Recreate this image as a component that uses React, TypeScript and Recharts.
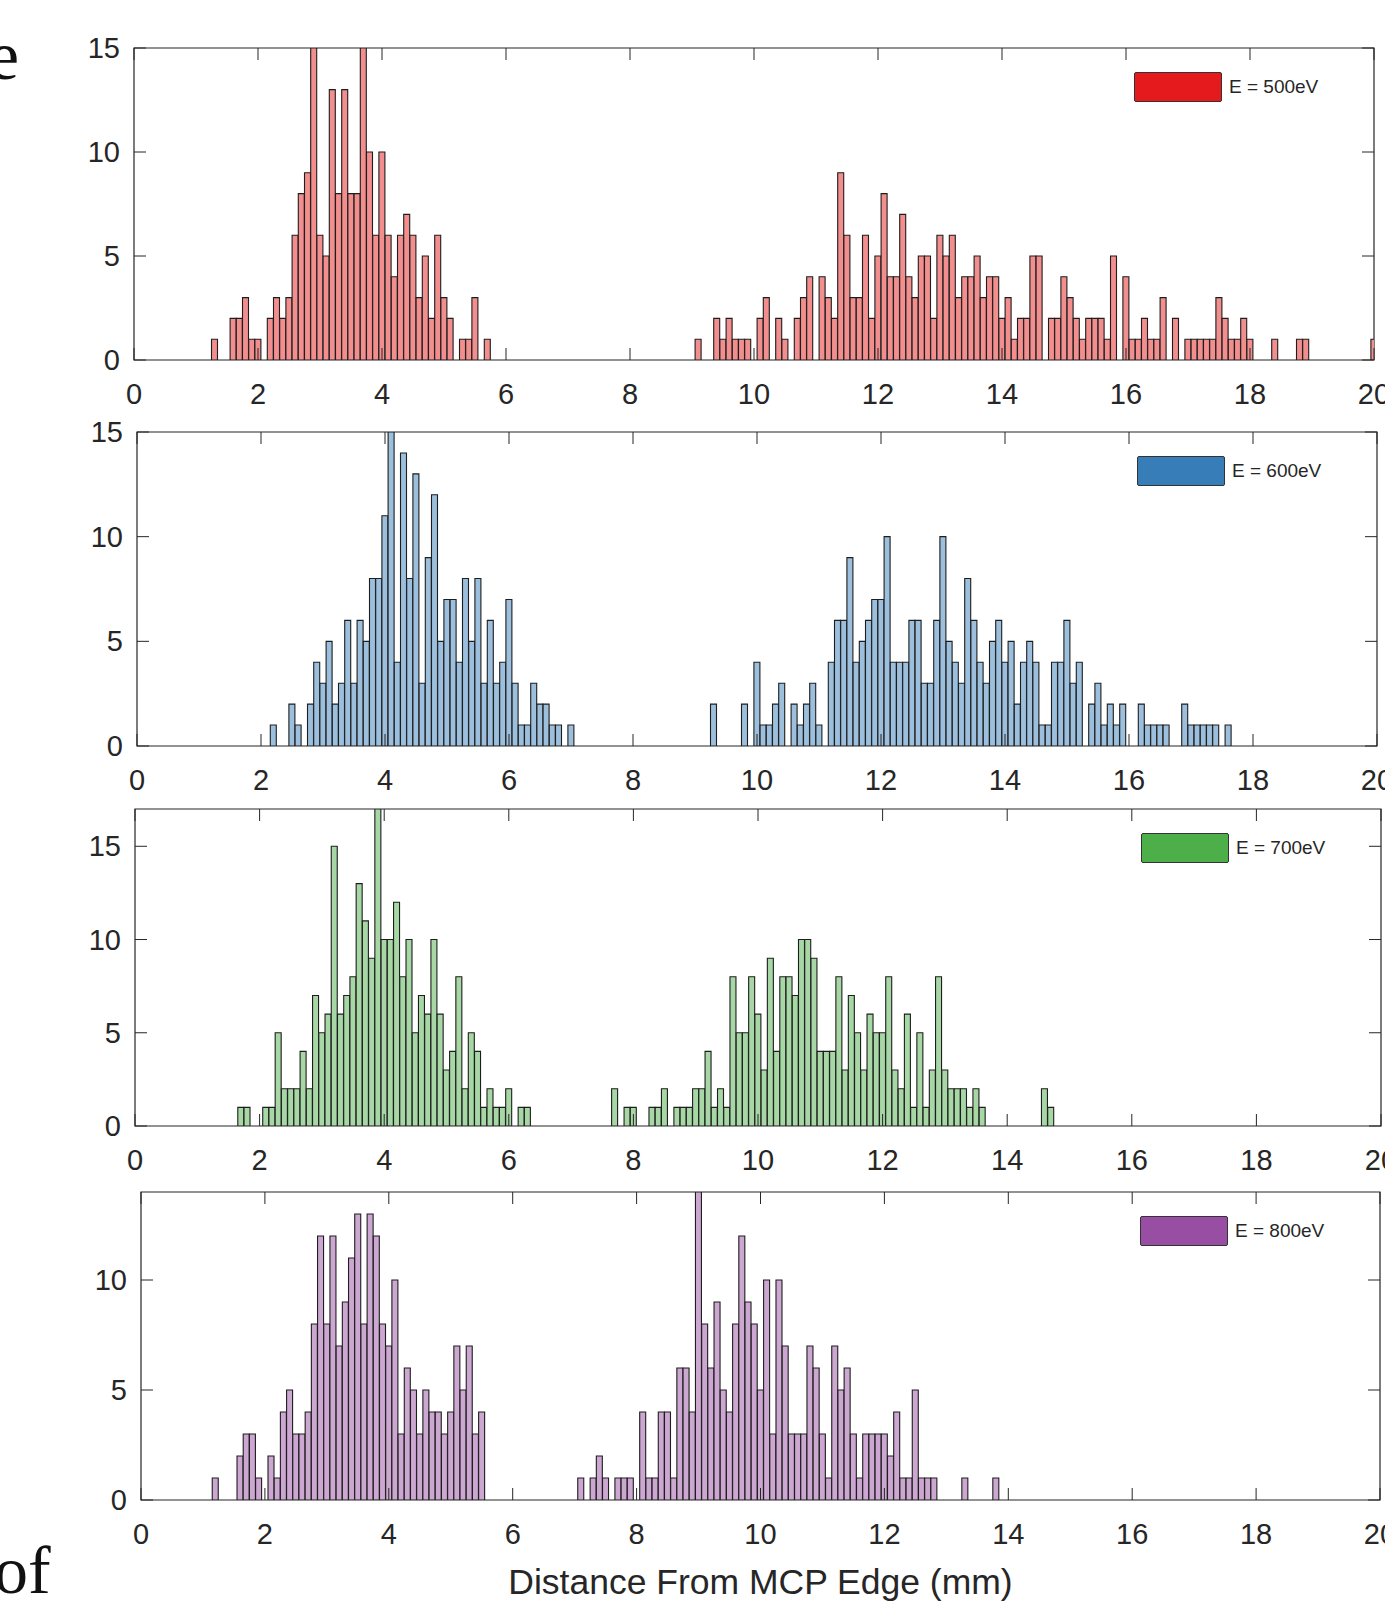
import { ComposedChart, Bar, XAxis, YAxis, ReferenceArea, Legend } from "recharts";

const W = 1385;
const INK = "#262626";
const SANS = "'Liberation Sans', Arial, sans-serif";

// counts per 0.1 mm bin; each run starts at the given bin centre (mm)
const e500StartA = 1.3;
const e500CountsA = [
  1, 0, 0, 2, 2, 3, 1, 1, 0, 2,
  3, 2, 3, 6, 8, 9, 15, 6, 5, 13,
  8, 13, 8, 8, 15, 10, 6, 10, 6, 4,
  6, 7, 6, 3, 5, 2, 6, 3, 2, 0,
  1, 1, 3, 0, 1,
];
const e500StartB = 9.1;
const e500CountsB = [
  1, 0, 0, 2, 1, 2, 1, 1, 1, 0,
  2, 3, 0, 2, 1, 0, 2, 3, 4, 0,
  4, 3, 2, 9, 6, 3, 3, 6, 2, 5,
  8, 4, 4, 7, 4, 3, 5, 5, 2, 6,
  5, 6, 3, 4, 4, 5, 3, 4, 4, 2,
  3, 1, 2, 2, 5, 5, 0, 2, 2, 4,
  3, 2, 1, 2, 2, 2, 1, 5, 0, 4,
  1, 1, 2, 1, 1, 3, 0, 2, 0, 1,
  1, 1, 1, 1, 3, 2, 1, 1, 2, 1,
  0, 0, 0, 1, 0, 0, 0, 1, 1, 0,
  0, 0, 0, 0, 0, 0, 0, 0, 0, 1,
];

const e600StartA = 2.2;
const e600CountsA = [
  1, 0, 0, 2, 1, 0, 2, 4, 3, 5,
  2, 3, 6, 3, 6, 5, 8, 8, 11, 15,
  4, 14, 8, 13, 3, 9, 12, 5, 7, 7,
  4, 8, 5, 8, 3, 6, 3, 4, 7, 3,
  1, 1, 3, 2, 2, 1, 1, 0, 1,
];
const e600StartB = 9.3;
const e600CountsB = [
  2, 0, 0, 0, 0, 2, 0, 4, 1, 1,
  2, 3, 0, 2, 1, 2, 3, 1, 0, 4,
  6, 6, 9, 4, 5, 6, 7, 7, 10, 4,
  4, 4, 6, 6, 3, 3, 6, 10, 5, 4,
  3, 8, 6, 4, 3, 5, 6, 4, 5, 2,
  4, 5, 4, 1, 1, 4, 4, 6, 3, 4,
  0, 2, 3, 1, 2, 1, 2, 0, 0, 2,
  1, 1, 1, 1, 0, 0, 2, 1, 1, 1,
  1, 1, 0, 1,
];

const e700StartA = 1.7;
const e700CountsA = [
  1, 1, 0, 0, 1, 1, 5, 2, 2, 2,
  4, 2, 7, 5, 6, 15, 6, 7, 8, 13,
  11, 9, 17, 10, 10, 12, 8, 10, 5, 7,
  6, 10, 6, 3, 4, 8, 2, 5, 4, 1,
  2, 1, 1, 2, 0, 1, 1,
];
const e700StartB = 7.7;
const e700CountsB = [
  2, 0, 1, 1, 0, 0, 1, 1, 2, 0,
  1, 1, 1, 2, 2, 4, 1, 2, 1, 8,
  5, 5, 8, 6, 3, 9, 4, 8, 8, 7,
  10, 10, 9, 4, 4, 4, 8, 3, 7, 5,
  3, 6, 5, 5, 8, 3, 2, 6, 1, 5,
  1, 3, 8, 3, 2, 2, 2, 1, 2, 1,
  0, 0, 0, 0, 0, 0, 0, 0, 0, 2,
  1,
];

const e800StartA = 1.2;
const e800CountsA = [
  1, 0, 0, 0, 2, 3, 3, 1, 0, 2,
  1, 4, 5, 3, 3, 4, 8, 12, 8, 12,
  7, 9, 11, 13, 8, 13, 12, 8, 7, 10,
  3, 6, 5, 3, 5, 4, 4, 3, 4, 7,
  5, 7, 3, 4,
];
const e800StartB = 7.1;
const e800CountsB = [
  1, 0, 1, 2, 1, 0, 1, 1, 1, 0,
  4, 1, 1, 4, 4, 1, 6, 6, 4, 14,
  8, 6, 9, 5, 4, 8, 12, 9, 8, 5,
  10, 3, 10, 7, 3, 3, 3, 7, 6, 3,
  1, 7, 5, 6, 3, 1, 3, 3, 3, 3,
  2, 4, 1, 1, 5, 1, 1, 1, 0, 0,
  0, 0, 1, 0, 0, 0, 0, 1,
];

const xTicks = [0, 2, 4, 6, 8, 10, 12, 14, 16, 18, 20];
const yTicks15 = [0, 5, 10, 15];
const yTicks10 = [0, 5, 10];

const buildBins = (runs: Array<[number, number[]]>) =>
  runs.flatMap(([start, counts]) =>
    counts.map((count, i) => ({ x: Math.round(start * 10 + i) / 10, count }))
  );

interface PanelProps {
  data: { x: number; count: number }[];
  name: string;
  fill: string;
  swatch: string;
  yMax: number;
  yTicks: number[];
  left: number;
  right: number;
  top: number;
  bottom: number;
  title?: string;
}

const PAD_TOP = 20;
const AXIS_H = 60;
const TICK = 12;

const Panel = ({ data, name, fill, swatch, yMax, yTicks, left, right, top, bottom, title }: PanelProps) => {
  const extra = title ? 60 : 0;
  const height = PAD_TOP + (bottom - top) + AXIS_H + extra;

  const renderXTick = (p: any) => (
    <g>
      <line x1={p.x} x2={p.x} y1={p.y} y2={p.y - TICK} stroke={INK} strokeWidth={1} />
      <line x1={p.x} x2={p.x} y1={PAD_TOP} y2={PAD_TOP + TICK} stroke={INK} strokeWidth={1} />
      <text x={p.x} y={p.y + 34} textAnchor="middle" dominantBaseline="central"
        fontSize={29} fill={INK} fontFamily={SANS}>
        {p.payload.value}
      </text>
    </g>
  );

  const renderYTick = (p: any) => (
    <g>
      <line x1={p.x} x2={p.x + TICK} y1={p.y} y2={p.y} stroke={INK} strokeWidth={1} />
      <line x1={right - TICK} x2={right} y1={p.y} y2={p.y} stroke={INK} strokeWidth={1} />
      <text x={p.x - 14} y={p.y} textAnchor="end" dominantBaseline="central"
        fontSize={29} fill={INK} fontFamily={SANS}>
        {p.payload.value}
      </text>
    </g>
  );

  return (
    <div style={{ position: "absolute", left: 0, top: top - PAD_TOP }}>
      <ComposedChart
        width={W}
        height={height}
        data={data}
        margin={{ top: PAD_TOP, right: W - right, bottom: extra, left: 0 }}
        barCategoryGap={0}
        barGap={0}
      >
        <XAxis
          dataKey="x" type="number" domain={[0, 20]} allowDataOverflow
          ticks={xTicks} interval={0} height={AXIS_H}
          axisLine={false} tickLine={false} tickSize={0} tickMargin={0}
          tick={renderXTick}
          label={title ? { value: title, position: "bottom", offset: 9, fontSize: 35.5, fill: INK, fontFamily: SANS } : undefined}
        />
        <YAxis
          type="number" domain={[0, yMax]} allowDataOverflow
          ticks={yTicks} interval={0} width={left}
          axisLine={false} tickLine={false} tickSize={0} tickMargin={0}
          tick={renderYTick}
        />
        <Bar dataKey="count" fill={fill} stroke="#1e1e1e" strokeWidth={1.1} isAnimationActive={false} />
        <ReferenceArea x1={0} x2={20} y1={0} y2={yMax} fill="none" fillOpacity={0}
          stroke={INK} strokeWidth={1.2} ifOverflow="visible" />
        <Legend
          layout="vertical" align="center" verticalAlign="middle"
          wrapperStyle={{ left: right - 240, top: PAD_TOP + 24, width: 220, height: 30 }}
          content={() => (
            <div style={{ display: "flex", alignItems: "center", height: 30 }}>
              <div style={{
                width: 88, height: 30, boxSizing: "border-box", background: swatch,
                border: "1.5px solid #333", borderRadius: 2,
              }} />
              <span style={{ marginLeft: 7, fontSize: 19, color: INK, fontFamily: SANS, whiteSpace: "nowrap" }}>
                {name}
              </span>
            </div>
          )}
        />
      </ComposedChart>
    </div>
  );
};

const App = () => (
  <div style={{
    position: "absolute", left: 0, top: 0, width: W, height: 1604,
    overflow: "hidden", background: "#fff", fontFamily: SANS,
  }}>
    <div style={{
      position: "absolute", left: -12, top: 21, fontFamily: "'Liberation Serif', 'Times New Roman', serif",
      fontSize: 70, lineHeight: "70px", color: "#111",
    }}>e</div>
    <div style={{
      position: "absolute", left: -6, top: 1536, fontFamily: "'Liberation Serif', 'Times New Roman', serif",
      fontSize: 68, lineHeight: "68px", color: "#111",
    }}>of</div>

    <Panel
      data={buildBins([[e500StartA, e500CountsA], [e500StartB, e500CountsB]])}
      name="E = 500eV" fill="#F28E8E" swatch="#E41A1C"
      yMax={15} yTicks={yTicks15}
      left={134} right={1374} top={48} bottom={360}
    />
    <Panel
      data={buildBins([[e600StartA, e600CountsA], [e600StartB, e600CountsB]])}
      name="E = 600eV" fill="#9BBFDC" swatch="#377EB8"
      yMax={15} yTicks={yTicks15}
      left={137} right={1377} top={432} bottom={746}
    />
    <Panel
      data={buildBins([[e700StartA, e700CountsA], [e700StartB, e700CountsB]])}
      name="E = 700eV" fill="#A6D7A5" swatch="#4DAF4A"
      yMax={17} yTicks={yTicks15}
      left={135} right={1381} top={809} bottom={1126}
    />
    <Panel
      data={buildBins([[e800StartA, e800CountsA], [e800StartB, e800CountsB]])}
      name="E = 800eV" fill="#CCA7D1" swatch="#984EA3"
      yMax={14} yTicks={yTicks10}
      left={141} right={1380} top={1192} bottom={1500}
      title="Distance From MCP Edge (mm)"
    />
  </div>
);

export default App;
